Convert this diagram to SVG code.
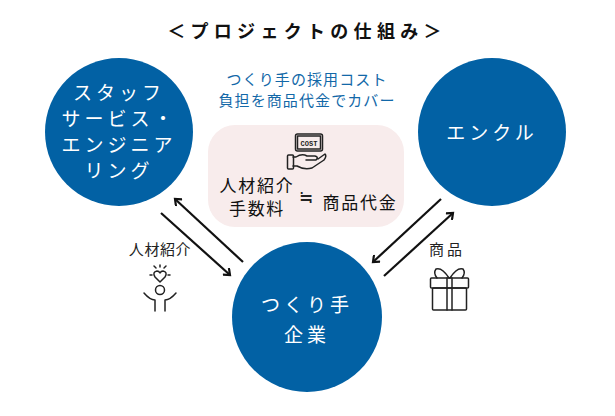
<svg xmlns="http://www.w3.org/2000/svg" width="615" height="416" viewBox="0 0 615 416">
<style>
text{font-family:"Noto Sans CJK JP","Noto Sans",sans-serif;text-anchor:middle}
.w{fill:#fff;font-size:19px;letter-spacing:4px}
.k{fill:#111;font-size:17px;letter-spacing:1.700px}
.b{fill:#1268a8;font-size:15px;letter-spacing:1.100px}
.s{fill:#222;font-size:15px;letter-spacing:.6px}
.c{fill:#0261a4}
.l{fill:none;stroke:#111;stroke-width:2.200}
.i{fill:none;stroke:#222;stroke-width:1.500;stroke-linecap:round;stroke-linejoin:round}
</style>
<defs><marker id="a" markerWidth="10" markerHeight="10" refX="7.500" refY="5" orient="auto" markerUnits="userSpaceOnUse"><path d="M2 .5L7.500 5L2 9.500" fill="none" stroke="#111" stroke-width="2.200"/></marker></defs>
<rect width="615" height="416" fill="#fff"/>
<text x="307" y="38" style="font-size:18px;font-weight:700;letter-spacing:5.300px;fill:#111">＜プロジェクトの仕組み＞</text>
<text x="307" y="85" class="b">つくり手の採用コスト</text>
<text x="307" y="106" class="b">負担を商品代金でカバー</text>
<g id="cost-box">
<rect x="208" y="125" width="196" height="102" rx="27" fill="#f8ecec"/>
<g class="i"><rect x="295.500" y="134" width="27" height="17" rx="2"/><rect x="297.500" y="136" width="23" height="13" fill="none"/>
<path d="M293 157H296Q302 153 307 156H315Q319 157 316 160H306M318 159L325 154Q327 156 324 160L312 168Q304 170 297 166H293"/><rect x="287.500" y="155" width="6" height="14" rx="1"/></g>
<text x="309" y="146" style="font-size:7px;font-weight:700;fill:#222;font-family:'Liberation Mono',monospace">COST</text>
<text x="257" y="192" class="k">人材紹介</text><text x="257" y="215" class="k">手数料</text>
<text x="306" y="203" style="font-size:17px;fill:#222">≒</text>
<text x="360" y="209" class="k">商品代金</text>
</g>
<g id="staff"><circle class="c" cx="119" cy="132" r="74"/>
<text x="119" y="100" class="w">スタッフ</text><text x="119" y="126" class="w">サービス・</text><text x="119" y="152" class="w">エンジニア</text><text x="119" y="178" class="w">リング</text></g>
<g id="encle"><circle class="c" cx="492" cy="132" r="74"/><text x="492" y="140" class="w">エンクル</text></g>
<g id="maker"><circle class="c" cx="307" cy="317" r="75"/><text x="307" y="312" class="w">つくり手</text><text x="307" y="342" class="w">企業</text></g>
<g id="connectors" class="l">
<line x1="243" y1="262" x2="175" y2="199" marker-end="url(#a)"/>
<line x1="161" y1="213" x2="230" y2="275" marker-end="url(#a)"/>
<line x1="441" y1="199" x2="373" y2="262" marker-end="url(#a)"/>
<line x1="384" y1="276" x2="453" y2="213" marker-end="url(#a)"/>
</g>
<g id="talent"><text x="160" y="255" class="s">人材紹介</text>
<g class="i"><path d="M160 282L155 277Q152 272 157 271Q159 271 160 273Q161 271 163 271Q168 272 165 277Z"/><path d="M154 266L156 268M160 265V267M166 266L164 268M150 275H152M168 275H170"/><circle cx="160" cy="290" r="4.500"/><path d="M144 293Q150 300 155 300V311M176 293Q170 300 165 300V311"/></g></g>
<g id="goods"><text x="447" y="255" class="s" style="letter-spacing:3px">商品</text>
<g class="i"><rect x="430.500" y="278" width="38" height="10" rx="1"/><rect x="432.500" y="288" width="34" height="22" rx="1"/><path d="M447 278V310M452 278V310M449 278Q442 267 436 269Q433 273 437 278M450 278Q457 267 463 269Q466 273 462 278"/></g></g>
</svg>
